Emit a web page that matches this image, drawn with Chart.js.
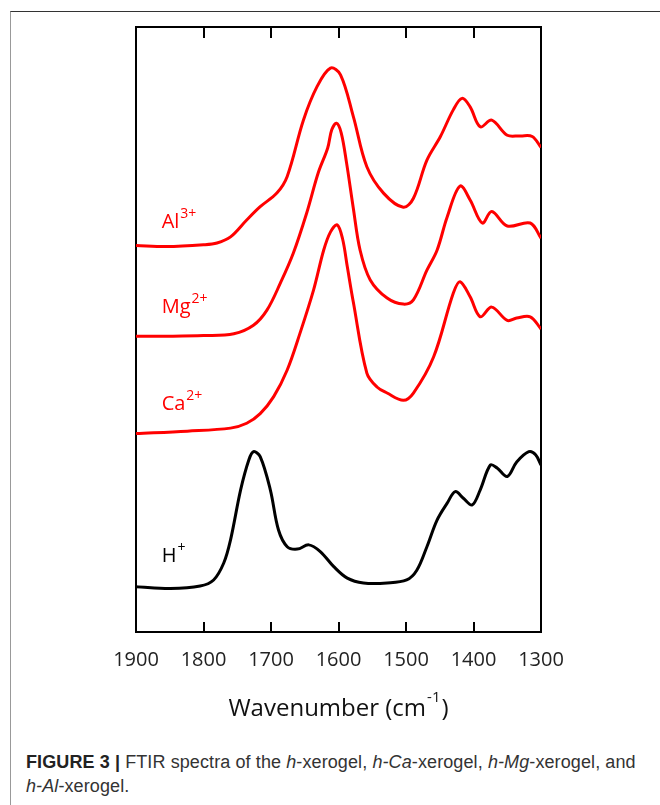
<!DOCTYPE html>
<html>
<head>
<meta charset="utf-8">
<script src="https://cdn.jsdelivr.net/npm/chart.js@4.4.1/dist/chart.umd.min.js"></script>
<style>
  html, body { margin: 0; padding: 0; background: #fff; }
  body { width: 660px; height: 805px; position: relative; overflow: hidden; }
  #frame {
    position: absolute; left: 10px; top: 11px; width: 700px; height: 900px;
    border-top: 1.5px solid #333; border-left: 1.5px solid #999;
  }
  #wrap { position: absolute; left: 0; top: 0; width: 660px; height: 740px; }
  #caption {
    position: absolute; left: 26px; top: 750px;
    font-family: "Liberation Sans", Arial, sans-serif;
    font-size: 18px; line-height: 24px; color: #333; white-space: nowrap;
    letter-spacing: 0.1px;
  }
  #caption b { color: #222; }
</style>
</head>
<body>
<div id="frame"></div>
<div id="wrap"><canvas id="chart" width="660" height="740"></canvas></div>
<div id="caption"><b>FIGURE 3 |</b> FTIR spectra of the <i>h</i>-xerogel, <i>h-Ca</i>-xerogel, <i>h-Mg</i>-xerogel, and<br><i>h-Al</i>-xerogel.</div>
<script>
// wavenumber (cm-1) and absorbance (a.u., curves offset)
const alWavenumber = [1900, 1855, 1800, 1780, 1760, 1736, 1716, 1691, 1676, 1652, 1632, 1612, 1597, 1578, 1558, 1533, 1504, 1489, 1469, 1449, 1430, 1417, 1405, 1390, 1373, 1350, 1331, 1313, 1300];
const alAbsorbance = [0.639, 0.637, 0.640, 0.643, 0.653, 0.681, 0.703, 0.726, 0.753, 0.846, 0.901, 0.932, 0.921, 0.852, 0.769, 0.725, 0.702, 0.717, 0.780, 0.819, 0.863, 0.882, 0.868, 0.835, 0.846, 0.821, 0.820, 0.819, 0.801];

const mgWavenumber = [1900, 1850, 1800, 1755, 1726, 1706, 1686, 1667, 1647, 1630, 1616, 1610, 1603, 1596, 1588, 1578, 1568, 1553, 1528, 1504, 1489, 1469, 1454, 1439, 1420, 1405, 1387, 1373, 1350, 1316, 1300];
const mgAbsorbance = [0.489, 0.489, 0.490, 0.493, 0.507, 0.532, 0.577, 0.626, 0.693, 0.759, 0.800, 0.830, 0.841, 0.825, 0.775, 0.700, 0.631, 0.582, 0.552, 0.542, 0.549, 0.598, 0.631, 0.686, 0.737, 0.714, 0.676, 0.695, 0.671, 0.676, 0.651];

const caWavenumber = [1900, 1824, 1760, 1736, 1716, 1696, 1676, 1657, 1637, 1622, 1612, 1602, 1594, 1587, 1578, 1558, 1543, 1528, 1504, 1489, 1459, 1430, 1420, 1405, 1390, 1373, 1350, 1336, 1316, 1300];
const caAbsorbance = [0.328, 0.332, 0.337, 0.345, 0.361, 0.389, 0.433, 0.494, 0.565, 0.631, 0.661, 0.673, 0.650, 0.604, 0.545, 0.428, 0.405, 0.395, 0.383, 0.395, 0.455, 0.560, 0.579, 0.554, 0.521, 0.537, 0.515, 0.519, 0.521, 0.501];

const hWavenumber = [1900, 1849, 1805, 1785, 1770, 1760, 1745, 1733, 1726, 1716, 1701, 1689, 1676, 1661, 1644, 1627, 1607, 1587, 1563, 1528, 1499, 1484, 1469, 1454, 1439, 1427, 1415, 1402, 1390, 1375, 1365, 1350, 1336, 1318, 1308, 1300];
const hAbsorbance = [0.075, 0.072, 0.076, 0.086, 0.114, 0.152, 0.235, 0.284, 0.298, 0.290, 0.235, 0.169, 0.141, 0.137, 0.144, 0.133, 0.108, 0.089, 0.081, 0.081, 0.086, 0.102, 0.141, 0.185, 0.213, 0.232, 0.221, 0.210, 0.235, 0.276, 0.271, 0.257, 0.281, 0.298, 0.293, 0.276];

const tickValues = [1900, 1800, 1700, 1600, 1500, 1400, 1300];

// curve labels, anchored in data units
const ionLabels = [
  { text: 'Al', sup: '3+', wn: 1862, abs: 0.668, color: '#ff0000' },
  { text: 'Mg', sup: '2+', wn: 1862, abs: 0.527, color: '#ff0000' },
  { text: 'Ca', sup: '2+', wn: 1862, abs: 0.367, color: '#ff0000' },
  { text: 'H', sup: '+', wn: 1862, abs: 0.116, color: '#000000' },
];

const labelFont = '"Open Sans", sans-serif';

function toPoints(xs, ys) {
  return xs.map((x, i) => ({ x: x, y: ys[i] }));
}

function series(xs, ys, color) {
  return {
    data: toPoints(xs, ys),
    borderColor: color,
    borderWidth: 3,
    pointRadius: 0,
    fill: false,
    tension: 0.35,
  };
}

const decorations = {
  id: 'decorations',
  afterDraw(chart) {
    const { ctx, chartArea, scales } = chart;
    const x = scales.x;
    const y = scales.y;
    ctx.save();

    // inward tick marks on top and bottom
    ctx.strokeStyle = '#000';
    ctx.lineWidth = 2;
    tickValues.forEach((v) => {
      if (v === 1900 || v === 1300) return;
      const px = Math.round(x.getPixelForValue(v));
      ctx.beginPath();
      ctx.moveTo(px, chartArea.bottom);
      ctx.lineTo(px, chartArea.bottom - 10);
      ctx.moveTo(px, chartArea.top);
      ctx.lineTo(px, chartArea.top + 11);
      ctx.stroke();
    });

    // ion labels with superscripts
    ctx.textBaseline = 'alphabetic';
    ionLabels.forEach((l) => {
      const px = x.getPixelForValue(l.wn);
      const py = y.getPixelForValue(l.abs);
      ctx.fillStyle = l.color;
      ctx.font = '20px ' + labelFont;
      ctx.fillText(l.text, px, py);
      const w = ctx.measureText(l.text).width;
      ctx.font = '14px ' + labelFont;
      ctx.fillText(l.sup, px + w + 1, py - 10);
    });

    // axis title
    const main = 'Wavenumber (cm';
    const sup = '-1';
    const close = ')';
    ctx.fillStyle = '#111';
    ctx.font = '24px ' + labelFont;
    const wMain = ctx.measureText(main).width;
    const wClose = ctx.measureText(close).width;
    ctx.font = '15px ' + labelFont;
    const wSup = ctx.measureText(sup).width;
    const total = wMain + wSup + 2 + wClose;
    let tx = (chartArea.left + chartArea.right) / 2 - total / 2;
    const ty = 716;
    ctx.font = '24px ' + labelFont;
    ctx.fillText(main, tx, ty);
    tx += wMain;
    ctx.font = '15px ' + labelFont;
    ctx.fillText(sup, tx + 1, ty - 14);
    tx += wSup + 2;
    ctx.font = '24px ' + labelFont;
    ctx.fillText(close, tx, ty);

    ctx.restore();
  },
};

new Chart(document.getElementById('chart'), {
  type: 'line',
  data: {
    datasets: [
      series(alWavenumber, alAbsorbance, '#ff0000'),
      series(mgWavenumber, mgAbsorbance, '#ff0000'),
      series(caWavenumber, caAbsorbance, '#ff0000'),
      series(hWavenumber, hAbsorbance, '#000000'),
    ],
  },
  options: {
    responsive: false,
    animation: false,
    layout: { padding: 0 },
    plugins: {
      legend: { display: false },
      tooltip: { enabled: false },
    },
    scales: {
      x: {
        type: 'linear',
        position: 'bottom',
        reverse: true,
        min: 1300,
        max: 1900,
        afterBuildTicks(axis) {
          axis.ticks = tickValues.map((v) => ({ value: v }));
        },
        afterFit(axis) { axis.height = 108; },
        grid: { display: false, drawTicks: false },
        border: { display: true, color: '#000', width: 2 },
        ticks: {
          padding: 16,
          color: '#222',
          font: { family: 'Open Sans', size: 20 },
          maxRotation: 0,
          autoSkip: false,
          callback: (v) => String(v),
        },
      },
      xTop: {
        type: 'linear',
        position: 'top',
        reverse: true,
        min: 1300,
        max: 1900,
        afterFit(axis) { axis.height = 27; },
        grid: { display: false, drawTicks: false },
        border: { display: true, color: '#000', width: 2 },
        ticks: { display: false },
      },
      y: {
        type: 'linear',
        position: 'left',
        min: 0,
        max: 1,
        afterFit(axis) { axis.width = 136; },
        grid: { display: false, drawTicks: false },
        border: { display: true, color: '#000', width: 2 },
        ticks: { display: false },
      },
      yRight: {
        type: 'linear',
        position: 'right',
        min: 0,
        max: 1,
        afterFit(axis) { axis.width = 119; },
        grid: { display: false, drawTicks: false },
        border: { display: true, color: '#000', width: 2 },
        ticks: { display: false },
      },
    },
  },
  plugins: [decorations],
});
</script>
</body>
</html>
